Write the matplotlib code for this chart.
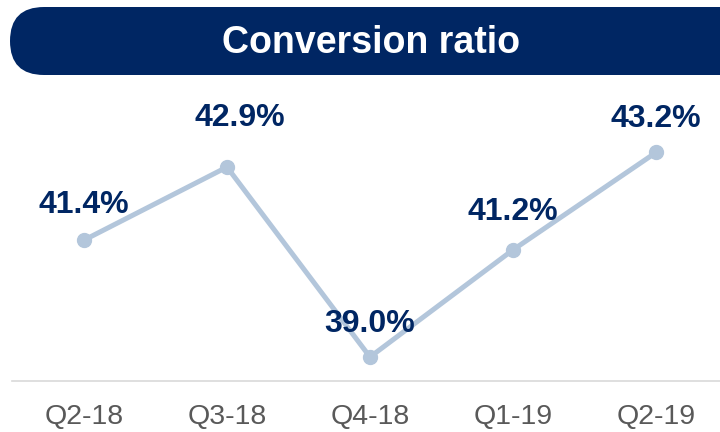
import matplotlib
matplotlib.use("Agg")
import matplotlib.pyplot as plt
from matplotlib.patches import FancyBboxPatch

# Conversion ratio by quarter
quarters = ["Q2-18", "Q3-18", "Q4-18", "Q1-19", "Q2-19"]
ratio = [41.4, 42.9, 39.0, 41.2, 43.2]
labels = ["41.4%", "42.9%", "39.0%", "41.2%", "43.2%"]

NAVY = "#002663"
LINE = "#b3c6db"
GREY_TXT = "#595959"

plt.rcParams["font.family"] = ["Liberation Sans", "DejaVu Sans"]

W, H = 720, 432
fig = plt.figure(figsize=(W / 100, H / 100), dpi=100, facecolor="white")

# title banner, drawn in pixel coordinates on a full-figure axes
bg = fig.add_axes([0, 0, 1, 1])
bg.set_xlim(0, W)
bg.set_ylim(H, 0)
bg.axis("off")
banner = FancyBboxPatch((10, 7), 760, 68,
                        boxstyle="round,pad=0,rounding_size=34",
                        facecolor=NAVY, edgecolor="none")
bg.add_patch(banner)
bg.text(371, 43, "Conversion ratio", ha="center", va="center",
        color="white", fontsize=27, fontweight="bold")

# main line chart
left, bottom, top = 12, 381, 90
ax = fig.add_axes([left / W, (H - bottom) / H, (W - left) / W, (bottom - top) / H])
x = list(range(len(quarters)))
ax.plot(x, ratio, color=LINE, lw=3.6, marker="o", ms=10, zorder=3)

step = 143.0
ax.set_xlim(-(84 - left) / step, (W - 84) / step)
ppu = 48.7
ax.set_ylim(39.0 - (bottom - 357) / ppu, 39.0 + (357 - top) / ppu)

offsets = [(0, 25), (9, 35), (0, 24), (0, 27), (0, 24)]
for xi, yi, lab, off in zip(x, ratio, labels, offsets):
    ax.annotate(lab, (xi, yi), xytext=off, textcoords="offset points",
                ha="center", va="center", fontsize=23, fontweight="bold",
                color=NAVY, zorder=4)

for s in ["top", "right", "left"]:
    ax.spines[s].set_visible(False)
ax.spines["bottom"].set_color("#d9d9d9")
ax.spines["bottom"].set_linewidth(1.2)
ax.set_yticks([])
ax.set_xticks(x)
ax.set_xticklabels(quarters, fontsize=20.5, color=GREY_TXT)
ax.tick_params(axis="x", length=0, pad=16.5)
ax.patch.set_alpha(0)

fig.savefig("out.png", dpi=100, facecolor="white")
